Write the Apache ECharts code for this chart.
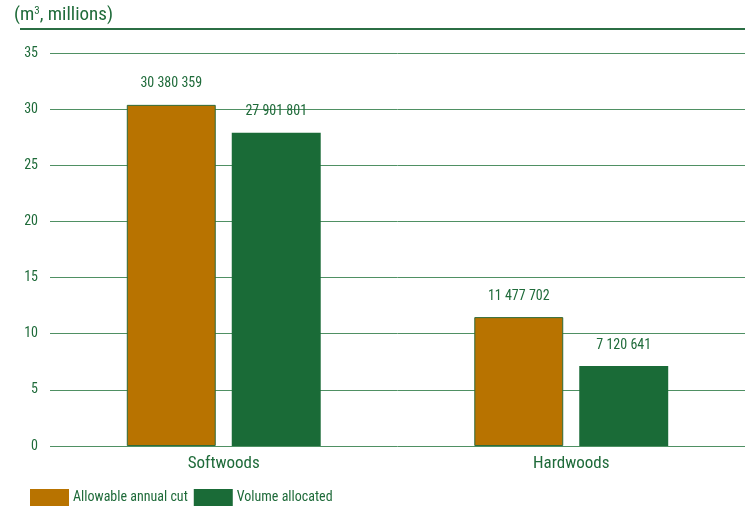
<!DOCTYPE html>
<html>
<head>
<meta charset="utf-8">
<script src="https://cdn.jsdelivr.net/npm/echarts@6/dist/echarts.min.js"></script>
<style>
html,body{margin:0;padding:0;background:#fff;}
#chart{width:754px;height:512px;}
</style>
</head>
<body>
<div id="chart"></div>
<script>
var categories = ['Softwoods', 'Hardwoods'];
var allowableCut = [30380359, 11477702];
var volumeAllocated = [27901801, 7120641];
var seriesNames = ['Allowable annual cut', 'Volume allocated'];
var yTicks = [0, 5, 10, 15, 20, 25, 30, 35];

var FONT = '"Roboto Condensed", sans-serif';
var TXT = '#1f6b3a';
var ORANGE = '#b87300';
var GREEN = '#1a6b37';

function fmt(v) {
  return String(v).replace(/\B(?=(\d{3})+(?!\d))/g, ' ');
}
function mk(arr) {
  return arr.map(function (v) { return { value: v / 1e6, raw: v }; });
}

var chart = echarts.init(document.getElementById('chart'));
chart.setOption({
  animation: false,
  textStyle: { fontFamily: FONT },
  grid: { left: 50, right: 9, top: 53, bottom: 66 },
  legend: {
    left: 30, top: 489, padding: 0, itemWidth: 39, itemHeight: 17, itemGap: 6,
    icon: 'rect',
    itemStyle: { borderWidth: 0 },
    textStyle: { color: TXT, fontFamily: FONT, fontSize: 14, padding: [2, 0, 0, -1] },
    data: seriesNames
  },
  graphic: [
    { type: 'text', left: 14, top: 6, style: {
      text: '(m{sup|3}, millions)', fill: TXT, fontFamily: FONT, fontSize: 19,
      rich: { sup: { fontSize: 11, verticalAlign: 'top', padding: [0, 0, 8, 0], fill: TXT, fontFamily: FONT } }
    } },
    { type: 'rect', shape: { x: 20, y: 28, width: 725, height: 2 }, style: { fill: '#2b6e44' } }
  ],
  xAxis: {
    type: 'category', data: categories,
    axisLine: { show: false }, axisTick: { show: false },
    axisLabel: { color: TXT, fontSize: 17, margin: 9, fontFamily: FONT }
  },
  yAxis: {
    type: 'value', min: yTicks[0], max: yTicks[yTicks.length - 1], interval: 5,
    axisLine: { show: false }, axisTick: { show: false },
    axisLabel: { color: TXT, fontSize: 14, margin: 12, fontFamily: FONT },
    splitLine: { lineStyle: { color: '#4f9063', width: 1 } }
  },
  series: [
    {
      name: seriesNames[0], type: 'bar', data: mk(allowableCut),
      barWidth: '25.6%', barGap: '18%',
      itemStyle: { color: ORANGE, borderColor: '#2f6b3a', borderWidth: 1 },
      label: { show: true, position: 'top', distance: 14, color: TXT, fontSize: 14, fontFamily: FONT,
        formatter: function (p) { return fmt(p.data.raw); } }
    },
    {
      name: seriesNames[1], type: 'bar', data: mk(volumeAllocated),
      barWidth: '25.6%', barGap: '18%',
      itemStyle: { color: GREEN },
      label: { show: true, position: 'top', distance: 14, color: TXT, fontSize: 14, fontFamily: FONT,
        formatter: function (p) { return fmt(p.data.raw); } }
    }
  ]
});
</script>
</body>
</html>
